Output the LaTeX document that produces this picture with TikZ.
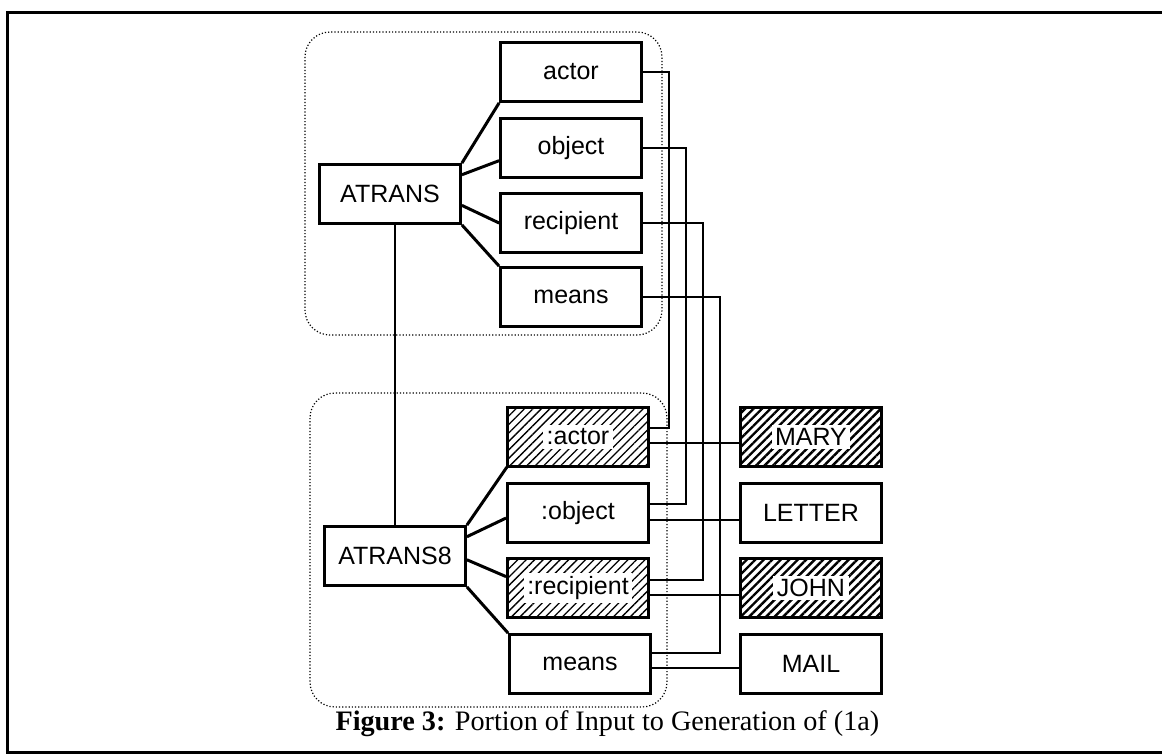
\documentclass[tikz,border=0pt]{standalone}
\usepackage{fontspec}
\setmainfont{Liberation Sans}
\newfontfamily\capfont{Liberation Serif}
\usetikzlibrary{patterns.meta}
\newcommand{\clearlabel}[1]{{\setlength{\fboxsep}{3.5pt}\colorbox{white}{#1}}}

\begin{document}
\begin{tikzpicture}[x=1pt,y=-1pt,
    slot/.style={draw,line width=2.8pt,minimum width=141pt,minimum height=59pt,inner sep=0pt,font=\fontsize{25}{30}\selectfont},
    filler/.style={slot,pattern={Lines[angle=45,distance=6pt,line width=1.3pt]}},
    token/.style={slot,line width=3.4pt,pattern={Lines[angle=45,distance=6pt,line width=2.4pt]}},
    group/.style={dotted,line width=1.2pt,rounded corners=25pt},
    link/.style={line width=3pt},
    wire/.style={line width=2.4pt}]
    \useasboundingbox (0,0) rectangle (1162,755);
    \draw[line width=3pt] (1162,12) -- (7,12) -- (7,752) -- (1162,752);

    \draw[group] (305,32) rectangle (662,335);
    \draw[group] (310,393) rectangle (667,707);

    \node[slot] (atrans) at (390,194) {ATRANS};
    \node[slot] (actor) at (571,72) {actor};
    \node[slot] (object) at (571,148) {object};
    \node[slot] (recipient) at (571,223) {recipient};
    \node[slot] (means) at (571,297) {means};

    \node[slot] (atrans8) at (395,556) {ATRANS8};
    \node[filler] (actor8) at (578,437) {\clearlabel{:actor}};
    \node[slot] (object8) at (578,513) {:object};
    \node[filler] (recipient8) at (578,588) {\clearlabel{:recipient}};
    \node[slot] (means8) at (580,664) {means};

    \node[token] (mary) at (811,437) {\clearlabel{MARY}};
    \node[slot] (letter) at (811,513) {LETTER};
    \node[token] (john) at (811,588) {\clearlabel{JOHN}};
    \node[slot] (mail) at (811,664) {MAIL};

    \node[anchor=base west,font=\capfont\fontsize{28.2}{34}\selectfont] (caption) at (332,730) {\textbf{Figure 3:} Portion of Input to Generation of (1a)};

    \draw[link] (atrans.north east) -- (actor.south west);
    \draw[link] (atrans.15) -- (object.190);
    \draw[link] (atrans.-9) -- (recipient.west);
    \draw[link] (atrans.south east) -- (means.north west);
    \draw[wire] (atrans.south -| atrans8.north) -- (atrans8.north);

    \draw[link] (atrans8.north east) -- (actor8.south west);
    \draw[link] (atrans8.15) -- (object8.184);
    \draw[link] (atrans8.-3) -- (recipient8.171);
    \draw[link] (atrans8.south east) -- (means8.north west);

    \draw[wire] (actor.east) -- ++(26,0) |- ([yshift=9pt]actor8.east);
    \draw[wire] (object.east) -- ++(43,0) |- ([yshift=9pt]object8.east);
    \draw[wire] (recipient.east) -- ++(60,0) |- ([yshift=8pt]recipient8.east);
    \draw[wire] (means.east) -- ++(77,0) |- ([yshift=11pt]means8.east);

    \draw[wire] ([yshift=-6pt]actor8.east) -- ([yshift=-6pt]mary.west);
    \draw[wire] ([yshift=-7pt]object8.east) -- ([yshift=-7pt]letter.west);
    \draw[wire] ([yshift=-7pt]recipient8.east) -- ([yshift=-7pt]john.west);
    \draw[wire] ([yshift=-4pt]means8.east) -- ([yshift=-4pt]mail.west);

\end{tikzpicture}
\end{document}
